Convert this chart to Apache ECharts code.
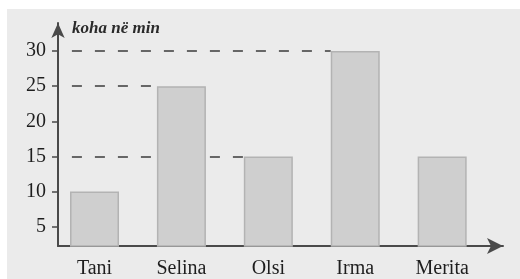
<!DOCTYPE html>
<html>
  <head>
    <meta charset='UTF-8'>
    <title>koha ne min</title>
    <script src="https://cdn.jsdelivr.net/npm/echarts@6/dist/echarts.min.js"></script>
    <style>
      html, body { margin: 0; padding: 0; background: #fff; }
      #wrap { position: relative; width: 520px; height: 279px; }
      #panel { position: absolute; left: 7px; top: 9px; right: 0; bottom: 0; background: #ebebeb; }
      #main { position: absolute; left: 0; top: 0; width: 520px; height: 279px; }
    </style>
  </head>
  <body>
    <div id="wrap">
      <div id="panel"></div>
      <div id="main"></div>
    </div>
    <script type="text/javascript">
    // te dhenat
    var names = ['Tani', 'Selina', 'Olsi', 'Irma', 'Merita'];
    var minutes = [10, 25, 15, 30, 15];
    var yTicks = [5, 10, 15, 20, 25, 30];
    // vijat me nderprerje shkojne deri te shtylla e ketyre emrave
    var guideTo = ['Selina', 'Olsi', 'Irma'];

    var barW = 49;
    var halfBar = 0.282;   // gjysma e shtylles ne njesi te boshtit x
    var guideStart = -0.26;

    var barData = minutes.map(function (v, i) { return [i, v]; });
    var guideLines = guideTo.map(function (n) {
        var i = names.indexOf(n);
        return [{ coord: [guideStart, minutes[i]] }, { coord: [i - halfBar, minutes[i]] }];
    });

    var serif = '"Liberation Serif", "DejaVu Serif", serif';
    var axisCol = '#4a4a4a';
    var textCol = '#1e1e1e';

    var myChart = echarts.init(document.getElementById('main'));
    var option = {
        animation: false,
        title: {
            text: 'koha në min',
            left: 72,
            top: 20,
            padding: 0,
            textStyle: { fontFamily: serif, fontStyle: 'italic', fontWeight: 'bold', fontSize: 17, color: '#2a2a2a' }
        },
        grid: { left: 58, right: 17, top: 23, bottom: 30, containLabel: false },
        xAxis: {
            type: 'value',
            min: -0.42,
            max: 4.7,
            splitLine: { show: false },
            axisTick: { show: false },
            axisLine: {
                show: true,
                onZero: false,
                symbol: ['none', 'arrow'],
                symbolSize: [12, 16],
                lineStyle: { color: axisCol, width: 2 }
            },
            axisLabel: {
                customValues: [0, 1, 2, 3, 4],
                formatter: function (v) { return names[Math.round(v)]; },
                margin: 13,
                fontFamily: serif,
                fontSize: 20,
                color: textCol
            }
        },
        yAxis: {
            type: 'value',
            min: 2.25,
            max: 34,
            splitLine: { show: false },
            axisLine: {
                show: true,
                onZero: false,
                symbol: ['none', 'arrow'],
                symbolSize: [10, 15],
                lineStyle: { color: axisCol, width: 2 }
            },
            axisTick: {
                customValues: yTicks,
                length: 6,
                lineStyle: { color: axisCol, width: 1.5 }
            },
            axisLabel: {
                customValues: yTicks,
                margin: 12,
                fontFamily: serif,
                fontSize: 20,
                color: textCol
            }
        },
        series: [
            {
                type: 'bar',
                data: barData,
                barWidth: barW,
                z: 3,
                itemStyle: { color: '#cfcfcf', borderColor: '#b3b3b3', borderWidth: 1.5 },
                markLine: {
                    silent: true,
                    z: 1,
                    symbol: ['none', 'none'],
                    label: { show: false },
                    lineStyle: { color: '#666', width: 2, type: [10, 13] },
                    data: guideLines
                }
            }
        ]
    };
    myChart.setOption(option, true);
    </script>
  </body>
</html>
